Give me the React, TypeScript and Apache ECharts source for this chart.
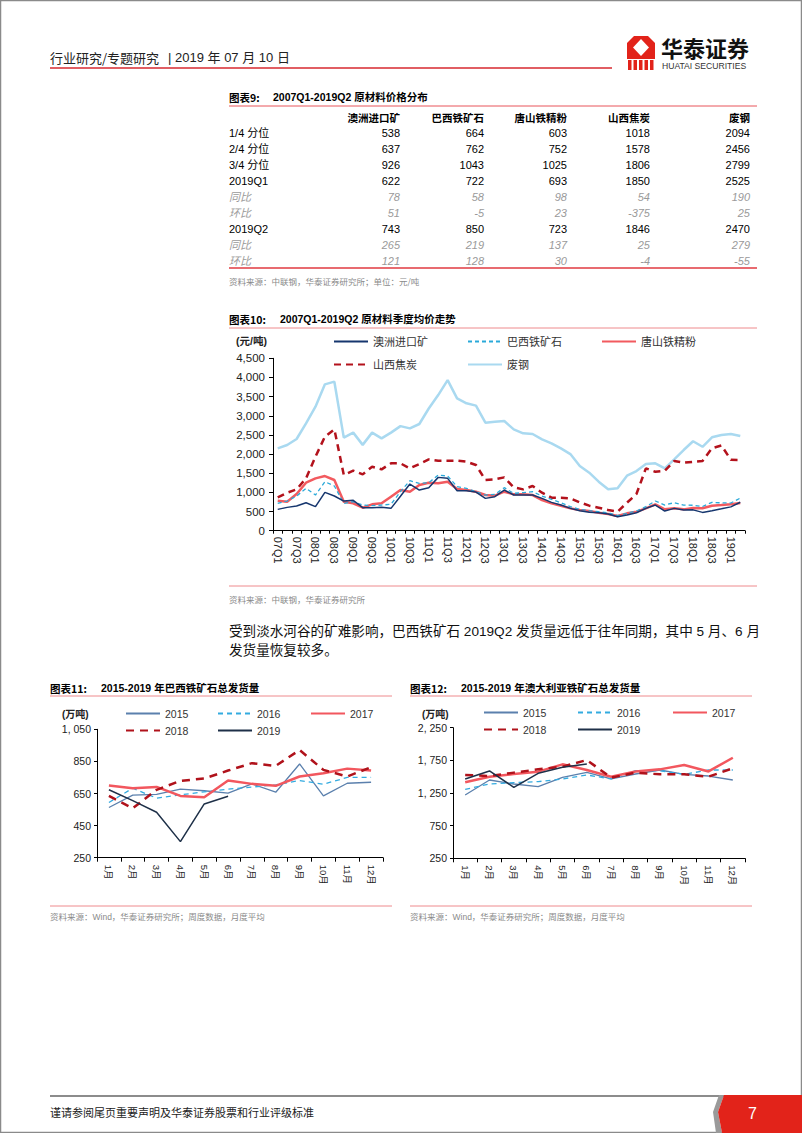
import React, { useEffect, useRef } from 'react';
import * as echarts from 'echarts';

const FONT = "'Liberation Sans', Arial, 'Noto Sans CJK SC', sans-serif";
const CJK = "'Noto Sans CJK SC', 'Liberation Sans', sans-serif";

// ---------- Table (图表9) ----------
const tableCols = ['澳洲进口矿', '巴西铁矿石', '唐山铁精粉', '山西焦炭', '废钢'];
const tableRowLabels = ['1/4 分位', '2/4 分位', '3/4 分位', '2019Q1', '同比', '环比', '2019Q2', '同比', '环比'];
const quartile1 = [538, 664, 603, 1018, 2094];
const quartile2 = [637, 762, 752, 1578, 2456];
const quartile3 = [926, 1043, 1025, 1806, 2799];
const q1Values = [622, 722, 693, 1850, 2525];
const q1YoY = [78, 58, 98, 54, 190];
const q1QoQ = [51, -5, 23, -375, 25];
const q2Values = [743, 850, 723, 1846, 2470];
const q2YoY = [265, 219, 137, 25, 279];
const q2QoQ = [121, 128, 30, -4, -55];
const tableRows = [quartile1, quartile2, quartile3, q1Values, q1YoY, q1QoQ, q2Values, q2YoY, q2QoQ];
const italicRows = [false, false, false, false, true, true, false, true, true];

// ---------- Chart 10 ----------
const quarters = ['07Q1','07Q2','07Q3','07Q4','08Q1','08Q2','08Q3','08Q4','09Q1','09Q2','09Q3','09Q4','10Q1','10Q2','10Q3','10Q4','11Q1','11Q2','11Q3','11Q4','12Q1','12Q2','12Q3','12Q4','13Q1','13Q2','13Q3','13Q4','14Q1','14Q2','14Q3','14Q4','15Q1','15Q2','15Q3','15Q4','16Q1','16Q2','16Q3','16Q4','17Q1','17Q2','17Q3','17Q4','18Q1','18Q2','18Q3','18Q4','19Q1','19Q2'];
const ausOre = [557, 609, 644, 731, 627, 1001, 905, 774, 792, 600, 600, 609, 583, 900, 1218, 1062, 1123, 1392, 1366, 1044, 1044, 1010, 844, 888, 1062, 931, 931, 931, 844, 740, 670, 583, 522, 479, 470, 435, 366, 409, 470, 583, 670, 513, 583, 540, 544, 478, 522, 571, 622, 743];
const brazilOre = [714, 775, 905, 1105, 931, 1280, 1166, 714, 757, 670, 653, 670, 688, 1018, 1305, 1236, 1253, 1453, 1427, 1149, 1105, 1018, 931, 949, 1123, 975, 992, 1018, 905, 818, 731, 627, 557, 522, 496, 470, 392, 453, 513, 627, 775, 670, 731, 670, 664, 631, 740, 727, 722, 850];
const tangshanConc = [783, 757, 957, 1253, 1366, 1427, 1323, 757, 714, 600, 688, 714, 888, 1062, 1018, 1192, 1253, 1236, 1280, 1088, 1062, 1018, 931, 914, 1018, 949, 949, 931, 800, 714, 653, 583, 540, 513, 470, 435, 383, 453, 496, 583, 688, 557, 583, 557, 595, 586, 653, 670, 693, 723];
const shanxiCoke = [870, 992, 1080, 1366, 1932, 2454, 2646, 1453, 1567, 1470, 1671, 1601, 1758, 1758, 1627, 1740, 1862, 1828, 1828, 1828, 1801, 1715, 1323, 1340, 1392, 1131, 1079, 1166, 992, 862, 862, 844, 740, 653, 601, 540, 496, 731, 957, 1627, 1540, 1567, 1819, 1775, 1796, 1821, 2150, 2225, 1850, 1846];
const scrapSteel = [2150, 2237, 2393, 2800, 3237, 3820, 3890, 2430, 2560, 2240, 2560, 2410, 2560, 2730, 2670, 2785, 3190, 3540, 3930, 3455, 3325, 3265, 2820, 2845, 2863, 2645, 2541, 2524, 2385, 2280, 2150, 2000, 1690, 1515, 1280, 1080, 1105, 1436, 1558, 1740, 1758, 1627, 1862, 2106, 2335, 2191, 2437, 2500, 2525, 2470];

// ---------- Charts 11 & 12 ----------
const months = ['1月', '2月', '3月', '4月', '5月', '6月', '7月', '8月', '9月', '10月', '11月', '12月'];
const years = ['2015', '2016', '2017', '2018', '2019'];
const brazil2015 = [563, 640, 645, 677, 667, 652, 710, 658, 834, 635, 714, 720];
const brazil2016 = [594, 683, 621, 642, 660, 677, 690, 704, 731, 708, 750, 750];
const brazil2017 = [700, 683, 691, 635, 627, 731, 710, 698, 756, 776, 805, 793];
const brazil2018 = [635, 558, 673, 729, 743, 793, 839, 822, 921, 797, 756, 814];
const brazil2019 = [673, 606, 533, 350, 585, 633];
const aus2015 = [1220, 1449, 1388, 1347, 1490, 1567, 1465, 1541, 1602, 1536, 1510, 1449];
const aus2016 = [1306, 1388, 1408, 1424, 1465, 1526, 1465, 1592, 1592, 1536, 1602, 1602];
const aus2017 = [1414, 1500, 1541, 1577, 1689, 1602, 1500, 1580, 1612, 1680, 1580, 1790];
const aus2018 = [1526, 1510, 1562, 1612, 1653, 1755, 1485, 1562, 1536, 1536, 1500, 1628];
const aus2019 = [1465, 1587, 1337, 1551, 1643, 1694];

const yearStyles: any[] = [
  { color: '#5b80ad', width: 1.3, type: 'solid' },
  { color: '#33abe0', width: 1.3, type: [5, 4] },
  { color: '#f2575e', width: 2.5, type: 'solid' },
  { color: '#b0121b', width: 2.5, type: [8, 6] },
  { color: '#1e3048', width: 1.5, type: 'solid' },
];

function T(x: number, y: number, text: string, o: any = {}) {
  return {
    type: 'text', x, y, silent: true,
    style: {
      text, fill: o.fill || '#000', fontSize: o.size || 11, fontFamily: o.family || FONT,
      fontWeight: o.weight || 'normal', fontStyle: o.italic ? 'italic' : 'normal',
      align: o.align || 'left', verticalAlign: 'middle',
    },
  };
}
function L(x1: number, y1: number, x2: number, y2: number, stroke: string, lineWidth: number) {
  return { type: 'line', silent: true, shape: { x1, y1, x2, y2 }, style: { stroke, lineWidth } };
}

function fmtComma(v: number) {
  return v >= 1000 ? Math.floor(v / 1000) + ',' + String(v % 1000).padStart(3, '0') : String(v);
}
function fmtCommaSpace(v: number) {
  return v >= 1000 ? Math.floor(v / 1000) + ', ' + String(v % 1000).padStart(3, '0') : String(v);
}

function leg(name: string, x: number, cy: number, size = 11) {
  return {
    data: [name], left: x, top: cy - 7, itemWidth: 34, itemHeight: 14, padding: 0,
    selectedMode: false, itemGap: 0,
    itemStyle: { opacity: 0 },
    textStyle: { fontSize: size, color: '#333', fontFamily: FONT },
  };
}

function buildOption() {
  const g: any[] = [];
  // page border
  g.push({ type: 'rect', silent: true, shape: { x: 0.5, y: 0.5, width: 801, height: 1132 }, style: { fill: 'none', stroke: '#8a8a8a', lineWidth: 1.5 } });
  // header
  g.push(T(50, 57, '行业研究/专题研究', { size: 13, family: CJK, fill: '#222' }));
  g.push(T(168, 57, '| 2019 年 07 月 10 日', { size: 13, fill: '#222' }));
  g.push(L(50, 68, 612, 68, '#d7282f', 1.5));
  // logo
  g.push({ type: 'rect', silent: true, shape: { x: 627, y: 36, width: 28, height: 23 }, style: { fill: '#e2231a' } });
  g.push({ type: 'polygon', silent: true, shape: { points: [[641, 39], [649, 47.5], [641, 56], [633, 47.5]] }, style: { fill: '#fff' } });
  g.push({ type: 'polygon', silent: true, shape: { points: [[627, 36], [634, 36], [627, 43]] }, style: { fill: '#fff' } });
  g.push({ type: 'polygon', silent: true, shape: { points: [[655, 36], [648, 36], [655, 43]] }, style: { fill: '#fff' } });
  [628, 633.5, 639, 644.5, 650].forEach((bx) => {
    g.push({ type: 'rect', silent: true, shape: { x: bx, y: 60, width: 3.5, height: 10 }, style: { fill: '#e2231a' } });
  });
  g.push(T(661, 47, '华泰证券', { size: 22, weight: 'bold', family: CJK, fill: '#111' }));
  g.push(T(662, 66, 'HUATAI SECURITIES', { size: 8.6, fill: '#333' }));

  // table title
  g.push(T(229, 97, '图表9:', { size: 10.5, weight: 'bold', family: CJK }));
  g.push(T(273, 97, '2007Q1-2019Q2 原材料价格分布', { size: 10.5, weight: 'bold' }));
  g.push(L(229, 106, 757, 106, '#e8545a', 1));
  const colRight = [400, 484, 567, 650, 750];
  tableCols.forEach((c, i) => g.push(T(colRight[i], 117, c, { size: 10.5, weight: 'bold', family: CJK, align: 'right' })));
  tableRows.forEach((row, r) => {
    const y = 133 + r * 16;
    const it = italicRows[r];
    const color = it ? '#9a9a9a' : '#000';
    g.push(T(229, y, tableRowLabels[r], { size: 11, fill: color, italic: it }));
    row.forEach((v, i) => g.push(T(colRight[i], y, String(v), { size: 11, fill: color, italic: it, align: 'right' })));
  });
  g.push(L(229, 268, 757, 268, '#e03a40', 1.5));
  g.push(T(229, 281, '资料来源：中联钢，华泰证券研究所；单位：元/吨', { size: 8.5, fill: '#8a8a8a', family: CJK }));

  // chart 10 title
  g.push(T(229, 319, '图表10:', { size: 10.5, weight: 'bold', family: CJK }));
  g.push(T(280, 319, '2007Q1-2019Q2 原材料季度均价走势', { size: 10.5, weight: 'bold' }));
  g.push(L(229, 328, 757, 328, '#ee8a8d', 1));
  g.push(T(236, 341, '(元/吨)', { size: 10.5, weight: 'bold', fill: '#222' }));
  g.push(L(229, 586, 757, 586, '#ee8a8d', 1));
  g.push(T(229, 599, '资料来源：中联钢，华泰证券研究所', { size: 8.5, fill: '#8a8a8a', family: CJK }));

  // paragraph
  g.push(T(229, 631, '受到淡水河谷的矿难影响，巴西铁矿石 2019Q2 发货量远低于往年同期，其中 5 月、6 月', { size: 13.6, fill: '#111' }));
  g.push(T(229, 650, '发货量恢复较多。', { size: 13.6, fill: '#111' }));

  // chart 11 / 12 titles
  g.push(T(50, 688, '图表11:', { size: 10.5, weight: 'bold', family: CJK }));
  g.push(T(101, 688, '2015-2019 年巴西铁矿石总发货量', { size: 10.5, weight: 'bold' }));
  g.push(L(50, 696, 392, 696, '#ee8a8d', 1));
  g.push(T(410, 688, '图表12:', { size: 10.5, weight: 'bold', family: CJK }));
  g.push(T(461, 688, '2015-2019 年澳大利亚铁矿石总发货量', { size: 10.5, weight: 'bold' }));
  g.push(L(410, 696, 752, 696, '#ee8a8d', 1));
  g.push(T(62, 714, '(万吨)', { size: 10, weight: 'bold', fill: '#222' }));
  g.push(T(422, 714, '(万吨)', { size: 10, weight: 'bold', fill: '#222' }));
  g.push(L(50, 906, 392, 906, '#ee8a8d', 1));
  g.push(L(410, 906, 752, 906, '#ee8a8d', 1));
  g.push(T(50, 917, '资料来源：Wind，华泰证券研究所；周度数据，月度平均', { size: 8.5, fill: '#8a8a8a' }));
  g.push(T(410, 917, '资料来源：Wind，华泰证券研究所；周度数据，月度平均', { size: 8.5, fill: '#8a8a8a' }));

  // footer
  g.push(L(50, 1096, 724, 1096, '#8c8c8c', 2));
  g.push({ type: 'polygon', silent: true, shape: { points: [[719, 1095], [724, 1095], [718, 1112], [722, 1133], [716, 1133], [713, 1112]] }, style: { fill: '#9a9a9a' } });
  g.push({ type: 'polygon', silent: true, shape: { points: [[724, 1095], [802, 1095], [802, 1133], [722, 1133], [718, 1112]] }, style: { fill: '#e2231a' } });
  g.push(T(748, 1113, '7', { size: 16, fill: '#fff' }));
  g.push(T(50, 1112, '谨请参阅尾页重要声明及华泰证券股票和行业评级标准', { size: 11, family: CJK, fill: '#222' }));

  const axisLineBlack = { show: true, lineStyle: { color: '#000', width: 1 } };

  const smallX = (gi: number) => ({
    gridIndex: gi, type: 'category', data: months, boundaryGap: true,
    axisLine: axisLineBlack,
    axisTick: { show: true, interval: 0, length: 4, lineStyle: { color: '#000' } },
    axisLabel: { interval: 0, rotate: -90, fontSize: 9.5, color: '#222', fontFamily: FONT, margin: 7 },
  });
  const smallY = (gi: number, min: number, max: number, interval: number) => ({
    gridIndex: gi, type: 'value', min, max, interval,
    axisLine: axisLineBlack,
    axisTick: { show: true, length: 3, lineStyle: { color: '#000' } },
    splitLine: { show: false },
    axisLabel: { fontSize: 10.5, color: '#222', fontFamily: FONT, margin: 6, formatter: (v: number) => fmtCommaSpace(v) },
  });

  const lineSeries = (name: string, data: number[], xi: number, yi: number, ls: any, z = 2) => ({
    name, type: 'line', data, xAxisIndex: xi, yAxisIndex: yi, symbol: 'none', showSymbol: false,
    lineStyle: { color: ls.color, width: ls.width, type: ls.type }, itemStyle: { color: ls.color },
    z, silent: true,
  });

  const brazilData = [brazil2015, brazil2016, brazil2017, brazil2018, brazil2019];
  const ausData = [aus2015, aus2016, aus2017, aus2018, aus2019];

  const series: any[] = [
    lineSeries('废钢', scrapSteel, 0, 0, { color: '#a9d9f0', width: 2.5, type: 'solid' }),
    lineSeries('山西焦炭', shanxiCoke, 0, 0, { color: '#b3121c', width: 2.5, type: [7, 5] }),
    lineSeries('唐山铁精粉', tangshanConc, 0, 0, { color: '#f25a5f', width: 2.5, type: 'solid' }),
    lineSeries('巴西铁矿石', brazilOre, 0, 0, { color: '#2aa9d9', width: 1.3, type: [4, 3] }),
    lineSeries('澳洲进口矿', ausOre, 0, 0, { color: '#16366e', width: 1.5, type: 'solid' }),
  ];
  years.forEach((y, i) => series.push(lineSeries(y, brazilData[i], 1, 1, yearStyles[i])));
  years.forEach((y, i) => series.push(lineSeries(y, ausData[i], 2, 2, yearStyles[i])));

  const legends = [
    leg('澳洲进口矿', 333, 343), leg('巴西铁矿石', 467, 343), leg('唐山铁精粉', 601, 343),
    leg('山西焦炭', 333, 366), leg('废钢', 467, 366),
    leg('2015', 125, 715, 10.5), leg('2016', 217, 715, 10.5), leg('2017', 310, 715, 10.5),
    leg('2018', 125, 732, 10.5), leg('2019', 217, 732, 10.5),
    leg('2015', 483, 714, 10.5), leg('2016', 577, 714, 10.5), leg('2017', 672, 714, 10.5),
    leg('2018', 483, 731, 10.5), leg('2019', 577, 731, 10.5),
  ];

  return {
    animation: false,
    backgroundColor: '#fff',
    textStyle: { fontFamily: FONT },
    grid: [
      { left: 273, right: 57, top: 358.3, bottom: 602.3 },
      { left: 97, right: 419, top: 729.3, bottom: 275.3 },
      { left: 453, right: 57, top: 727.7, bottom: 274.7 },
    ],
    xAxis: [
      {
        gridIndex: 0, type: 'category', data: quarters, boundaryGap: true,
        axisLine: axisLineBlack,
        axisTick: { show: true, interval: 0, length: 3, lineStyle: { color: '#000' } },
        axisLabel: { interval: 1, rotate: -90, fontSize: 11, color: '#222', fontFamily: FONT, margin: 6 },
      },
      smallX(1), smallX(2),
    ],
    yAxis: [
      {
        gridIndex: 0, type: 'value', min: 0, max: 4500, interval: 500,
        axisLine: axisLineBlack,
        axisTick: { show: true, length: 4, lineStyle: { color: '#000' } },
        splitLine: { show: false },
        axisLabel: { fontSize: 11.5, color: '#222', fontFamily: FONT, margin: 8, formatter: (v: number) => fmtComma(v) },
      },
      smallY(1, 250, 1050, 200),
      smallY(2, 250, 2250, 500),
    ],
    legend: legends,
    series,
    graphic: g,
  };
}

export default function App() {
  const ref = useRef<HTMLDivElement>(null);
  useEffect(() => {
    const chart = echarts.init(ref.current!, null, { renderer: 'svg', width: 802, height: 1133 });
    chart.setOption(buildOption() as any);
    return () => chart.dispose();
  }, []);
  return (
    <div
      ref={ref}
      style={{ position: 'absolute', left: 0, top: 0, width: 802, height: 1133, background: '#fff' }}
    />
  );
}
